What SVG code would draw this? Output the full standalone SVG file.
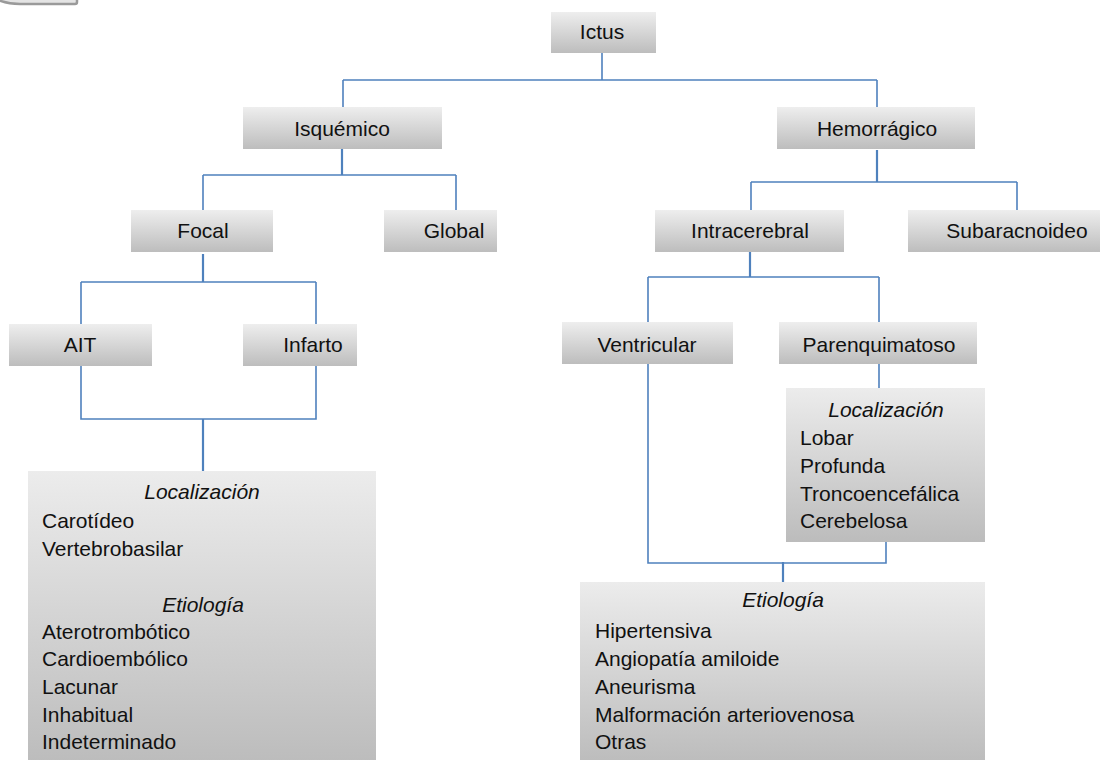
<svg xmlns="http://www.w3.org/2000/svg" width="1112" height="760" viewBox="0 0 1112 760">
<defs>
<linearGradient id="g" x1="0" y1="0" x2="0" y2="1">
<stop offset="0" stop-color="#eeeeee"/>
<stop offset="1" stop-color="#bdbdbd"/>
</linearGradient>
<linearGradient id="gb" x1="0" y1="0" x2="0" y2="1">
<stop offset="0" stop-color="#ececec"/>
<stop offset="1" stop-color="#bcbcbc"/>
</linearGradient>
</defs>
<style>
.box{fill:url(#g);}
.big{fill:url(#gb);}
text{font-family:"Liberation Sans",Arial,sans-serif;font-size:21px;fill:#111;}
.c{text-anchor:middle;}
.i{font-style:italic;}
.ln{fill:none;stroke:#4f81bd;stroke-width:1.6;}
.lt{fill:none;stroke:#4f81bd;stroke-width:2.2;}
</style>
<rect width="1112" height="760" fill="#ffffff"/>
<path d="M-2,0 Q8,4 20,4 L75,4 Q77,4 77,2 L77,-2" fill="#e4e4e4" stroke="#9a9a9a" stroke-width="2.5"/>
<g id="connectors">
<path class="ln" d="M602,53 V80 M343,80 H877 M343,80 V107 M877,80 V107"/>
<path class="lt" d="M342,149 V175"/>
<path class="ln" d="M203,175 H456 M203,175 V210 M456,175 V210"/>
<path class="lt" d="M203,254 V282"/>
<path class="ln" d="M81,282 H316 M81,282 V324 M316,282 V324"/>
<path class="ln" d="M81,366 V419 H316 V366"/>
<path class="lt" d="M203,419 V471"/>
<path class="lt" d="M877,150 V182"/>
<path class="ln" d="M751,182 H1017 M751,182 V210 M1017,182 V210"/>
<path class="lt" d="M750,252 V277"/>
<path class="ln" d="M648,277 H879 M648,277 V322 M879,277 V322"/>
<path class="ln" d="M648,364 V563 H886 V542 M879,364 V388"/>
<path class="lt" d="M783,562 V582"/>
</g>
<g id="n-ictus"><rect class="box" x="551" y="12" width="105" height="41"/><text class="c" x="602" y="39">Ictus</text></g>
<g id="n-isquemico"><rect class="box" x="243" y="107" width="199" height="42"/><text class="c" x="342" y="136">Isquémico</text></g>
<g id="n-hemorragico"><rect class="box" x="777" y="107" width="198" height="42"/><text class="c" x="877" y="136">Hemorrágico</text></g>
<g id="n-focal"><rect class="box" x="131" y="210" width="142" height="42"/><text class="c" x="203" y="238">Focal</text></g>
<g id="n-global"><rect class="box" x="384" y="210" width="113" height="42"/><text class="c" x="454" y="238">Global</text></g>
<g id="n-intracerebral"><rect class="box" x="655" y="210" width="189" height="42"/><text class="c" x="750" y="238">Intracerebral</text></g>
<g id="n-subaracnoideo"><rect class="box" x="908" y="210" width="192" height="42"/><text class="c" x="1017" y="238">Subaracnoideo</text></g>
<g id="n-ait"><rect class="box" x="9" y="324" width="143" height="42"/><text class="c" x="80" y="352">AIT</text></g>
<g id="n-infarto"><rect class="box" x="243" y="324" width="114" height="42"/><text class="c" x="313" y="352">Infarto</text></g>
<g id="n-ventricular"><rect class="box" x="562" y="322" width="171" height="42"/><text class="c" x="647" y="352">Ventricular</text></g>
<g id="n-parenquimatoso"><rect class="box" x="779" y="322" width="198" height="42"/><text class="c" x="879" y="352">Parenquimatoso</text></g>
<g id="n-isq-detalle">
<rect class="big" x="28" y="471" width="348" height="292"/>
<text class="c i" x="202" y="499">Localización</text>
<text x="42" y="528">Carotídeo</text>
<text x="42" y="556">Vertebrobasilar</text>
<text class="c i" x="203" y="612">Etiología</text>
<text x="42" y="639">Aterotrombótico</text>
<text x="42" y="666">Cardioembólico</text>
<text x="42" y="694">Lacunar</text>
<text x="42" y="722">Inhabitual</text>
<text x="42" y="749">Indeterminado</text>
</g>
<g id="n-localizacion">
<rect class="big" x="786" y="388" width="199" height="154"/>
<text class="c i" x="886" y="417">Localización</text>
<text x="800" y="445">Lobar</text>
<text x="800" y="473">Profunda</text>
<text x="800" y="501">Troncoencefálica</text>
<text x="800" y="528">Cerebelosa</text>
</g>
<g id="n-etiologia">
<rect class="big" x="580" y="582" width="405" height="181"/>
<text class="c i" x="783" y="607">Etiología</text>
<text x="595" y="638">Hipertensiva</text>
<text x="595" y="666">Angiopatía amiloide</text>
<text x="595" y="694">Aneurisma</text>
<text x="595" y="722">Malformación arteriovenosa</text>
<text x="595" y="749">Otras</text>
</g>
</svg>
